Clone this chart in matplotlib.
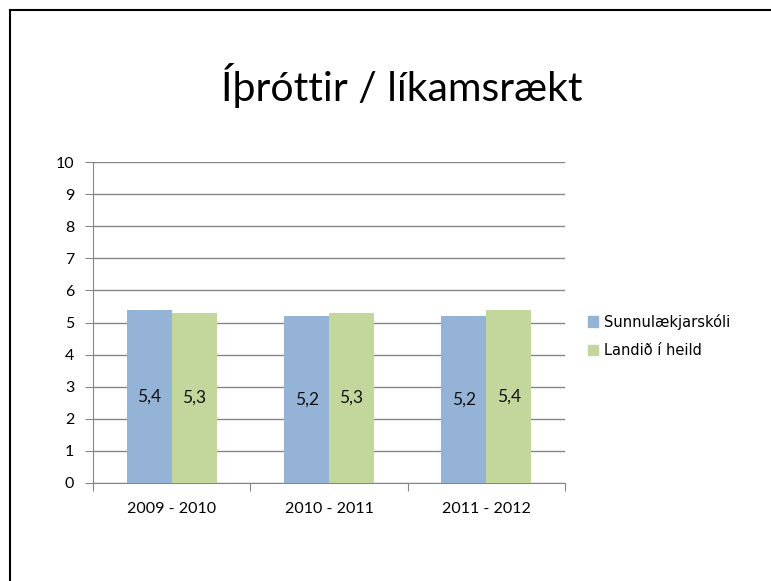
import matplotlib
matplotlib.use("Agg")
import matplotlib.pyplot as plt
from matplotlib.lines import Line2D
from matplotlib.patches import Patch
import numpy as np

categories = ["2009 - 2010", "2010 - 2011", "2011 - 2012"]
sunnulaekjarskoli = [5.4, 5.2, 5.2]
landid = [5.3, 5.3, 5.4]
labels_s = ["5,4", "5,2", "5,2"]
labels_l = ["5,3", "5,3", "5,4"]
series_names = ["Sunnulækjarskóli", "Landið í heild"]
title = "Íþróttir / líkamsrækt"

blue = "#95B3D7"
green = "#C3D69B"
grid_c = "#868686"

fig = plt.figure(figsize=(7.71, 5.81), dpi=100)
fig.patch.set_facecolor("white")
ax = fig.add_axes([93/771, 1-483/581, (565-93)/771, (483-162)/581])

x = np.arange(len(categories)) + 0.5
w = 1/3.5
b1 = ax.bar(x - w/2, sunnulaekjarskoli, w, color=blue, zorder=3)
b2 = ax.bar(x + w/2, landid, w, color=green, zorder=3)
for i in range(len(categories)):
    ax.text(x[i] - w/2, sunnulaekjarskoli[i]/2, labels_s[i], ha="center", va="center",
            fontsize=12.5, family="Lato", color="#111111", zorder=4)
    ax.text(x[i] + w/2, landid[i]/2, labels_l[i], ha="center", va="center",
            fontsize=12.5, family="Lato", color="#111111", zorder=4)

ax.set_xlim(0, 3)
ax.set_ylim(0, 10)
ax.set_yticks(range(0, 11))
ax.set_yticklabels([str(v) for v in range(0, 11)], family="Lato", fontsize=11.5)
ax.set_xticks([0, 1, 2, 3])
ax.set_xticklabels([])
ax.set_xticks(x, minor=True)
ax.set_xticklabels(categories, minor=True, family="Lato", fontsize=11.5)
ax.tick_params(axis="x", which="minor", length=0, pad=14)
ax.tick_params(axis="x", which="major", length=6, direction="out", color=grid_c)
ax.tick_params(axis="y", length=6, direction="out", color=grid_c, pad=7.5)
ax.yaxis.grid(True, color=grid_c, linewidth=1, zorder=0)
ax.set_axisbelow(True)
for s in ["top", "right"]:
    ax.spines[s].set_visible(False)
for s in ["left", "bottom"]:
    ax.spines[s].set_color(grid_c)

fig.text(402/771, 1-85/581, title, ha="center", va="center", fontsize=29.5, family="Lato")

handles = [Patch(facecolor=blue, edgecolor=blue), Patch(facecolor=green, edgecolor=green)]
fig.legend(handles, series_names, loc="center left", bbox_to_anchor=(575/771, 1-336/581),
           frameon=False, handlelength=0.7, handleheight=0.7, handletextpad=0.4,
           labelspacing=0.95, prop={"family": "DejaVu Sans", "size": 10.5})

fig.add_artist(Line2D([9.5/771, 9.5/771], [0, 1-9.5/581], color="black", linewidth=1.5))
fig.add_artist(Line2D([9.5/771, 1], [1-9.5/581, 1-9.5/581], color="black", linewidth=1.5))

fig.savefig("out.png", dpi=100)
